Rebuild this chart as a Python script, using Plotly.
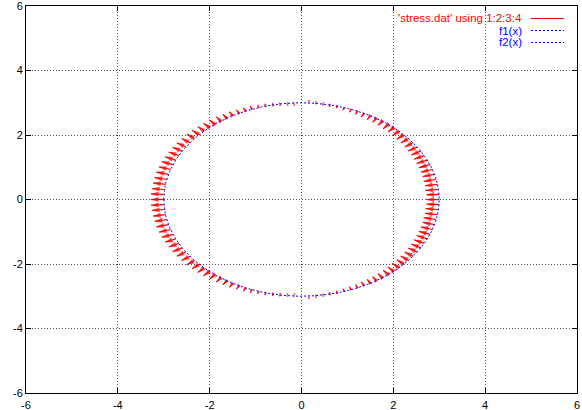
import math
import numpy as np
import plotly.graph_objects as go

# stress.dat: columns 1:2:3:4 -> x, y, dx, dy (one vector every 3 degrees around the ring)
x = [
    3.00, 3.00, 2.98, 2.96, 2.93, 2.90, 2.85, 2.80, 2.74, 2.67,
    2.60, 2.52, 2.43, 2.33, 2.23, 2.12, 2.01, 1.89, 1.76, 1.63,
    1.50, 1.36, 1.22, 1.08, 0.93, 0.78, 0.62, 0.47, 0.31, 0.16,
    0.00, -0.16, -0.31, -0.47, -0.62, -0.78, -0.93, -1.08, -1.22, -1.36,
    -1.50, -1.63, -1.76, -1.89, -2.01, -2.12, -2.23, -2.33, -2.43, -2.52,
    -2.60, -2.67, -2.74, -2.80, -2.85, -2.90, -2.93, -2.96, -2.98, -3.00,
    -3.00, -3.00, -2.98, -2.96, -2.93, -2.90, -2.85, -2.80, -2.74, -2.67,
    -2.60, -2.52, -2.43, -2.33, -2.23, -2.12, -2.01, -1.89, -1.76, -1.63,
    -1.50, -1.36, -1.22, -1.08, -0.93, -0.78, -0.62, -0.47, -0.31, -0.16,
    0.00, 0.16, 0.31, 0.47, 0.62, 0.78, 0.93, 1.08, 1.22, 1.36,
    1.50, 1.63, 1.76, 1.89, 2.01, 2.12, 2.23, 2.33, 2.43, 2.52,
    2.60, 2.67, 2.74, 2.80, 2.85, 2.90, 2.93, 2.96, 2.98, 3.00,
]
y = [
    0.00, 0.16, 0.31, 0.47, 0.62, 0.78, 0.93, 1.08, 1.22, 1.36,
    1.50, 1.63, 1.76, 1.89, 2.01, 2.12, 2.23, 2.33, 2.43, 2.52,
    2.60, 2.67, 2.74, 2.80, 2.85, 2.90, 2.93, 2.96, 2.98, 3.00,
    3.00, 3.00, 2.98, 2.96, 2.93, 2.90, 2.85, 2.80, 2.74, 2.67,
    2.60, 2.52, 2.43, 2.33, 2.23, 2.12, 2.01, 1.89, 1.76, 1.63,
    1.50, 1.36, 1.22, 1.08, 0.93, 0.78, 0.62, 0.47, 0.31, 0.16,
    0.00, -0.16, -0.31, -0.47, -0.62, -0.78, -0.93, -1.08, -1.22, -1.36,
    -1.50, -1.63, -1.76, -1.89, -2.01, -2.12, -2.23, -2.33, -2.43, -2.52,
    -2.60, -2.67, -2.74, -2.80, -2.85, -2.90, -2.93, -2.96, -2.98, -3.00,
    -3.00, -3.00, -2.98, -2.96, -2.93, -2.90, -2.85, -2.80, -2.74, -2.67,
    -2.60, -2.52, -2.43, -2.33, -2.23, -2.12, -2.01, -1.89, -1.76, -1.63,
    -1.50, -1.36, -1.22, -1.08, -0.93, -0.78, -0.62, -0.47, -0.31, -0.16,
]
dx = [
    -0.280, -0.279, -0.277, -0.273, -0.268, -0.261, -0.253, -0.244, -0.234, -0.222,
    -0.210, -0.197, -0.183, -0.169, -0.155, -0.140, -0.125, -0.111, -0.097, -0.083,
    -0.070, -0.058, -0.046, -0.036, -0.027, -0.019, -0.012, -0.007, -0.003, -0.001,
    0.000, -0.001, -0.003, -0.007, -0.012, -0.019, -0.027, -0.036, -0.046, -0.058,
    -0.070, -0.083, -0.097, -0.111, -0.125, -0.140, -0.155, -0.169, -0.183, -0.197,
    -0.210, -0.222, -0.234, -0.244, -0.253, -0.261, -0.268, -0.273, -0.277, -0.279,
    -0.280, -0.279, -0.277, -0.273, -0.268, -0.261, -0.253, -0.244, -0.234, -0.222,
    -0.210, -0.197, -0.183, -0.169, -0.155, -0.140, -0.125, -0.111, -0.097, -0.083,
    -0.070, -0.058, -0.046, -0.036, -0.027, -0.019, -0.012, -0.007, -0.003, -0.001,
    0.000, -0.001, -0.003, -0.007, -0.012, -0.019, -0.027, -0.036, -0.046, -0.058,
    -0.070, -0.083, -0.097, -0.111, -0.125, -0.140, -0.155, -0.169, -0.183, -0.197,
    -0.210, -0.222, -0.234, -0.244, -0.253, -0.261, -0.268, -0.273, -0.277, -0.279,
]
dy = [
    0.000, -0.015, -0.029, -0.043, -0.057, -0.070, -0.082, -0.094, -0.104, -0.113,
    -0.121, -0.128, -0.133, -0.137, -0.139, -0.140, -0.139, -0.137, -0.133, -0.128,
    -0.121, -0.113, -0.104, -0.094, -0.082, -0.070, -0.057, -0.043, -0.029, -0.015,
    0.000, 0.015, 0.029, 0.043, 0.057, 0.070, 0.082, 0.094, 0.104, 0.113,
    0.121, 0.128, 0.133, 0.137, 0.139, 0.140, 0.139, 0.137, 0.133, 0.128,
    0.121, 0.113, 0.104, 0.094, 0.082, 0.070, 0.057, 0.043, 0.029, 0.015,
    0.000, -0.015, -0.029, -0.043, -0.057, -0.070, -0.082, -0.094, -0.104, -0.113,
    -0.121, -0.128, -0.133, -0.137, -0.139, -0.140, -0.139, -0.137, -0.133, -0.128,
    -0.121, -0.113, -0.104, -0.094, -0.082, -0.070, -0.057, -0.043, -0.029, -0.015,
    0.000, 0.015, 0.029, 0.043, 0.057, 0.070, 0.082, 0.094, 0.104, 0.113,
    0.121, 0.128, 0.133, 0.137, 0.139, 0.140, 0.139, 0.137, 0.133, 0.128,
    0.121, 0.113, 0.104, 0.094, 0.082, 0.070, 0.057, 0.043, 0.029, 0.015,
]

tick_vals = [-6, -4, -2, 0, 2, 4, 6]
key_labels = ["'stress.dat' using 1:2:3:4", "f1(x)", "f2(x)"]

RED = "#ff0000"
BLUE = "#0000ff"
FONT = "Liberation Sans, Arial, Helvetica, sans-serif"

W, H = 582, 410
L, R, T, B = 26, 5, 6, 17
pw, ph = W - L - R, H - T - B
XR = [-6, 6]
YR = [-6, 6]
sx = pw / (XR[1] - XR[0])   # pixels per x unit
sy = ph / (YR[1] - YR[0])   # pixels per y unit
HEAD = 8                     # full arrow-head marker size in px
HEAD_MIN = 3.5               # short vectors still get a small visible head


def f1(v):
    return np.sqrt(9.0 - v ** 2)


def f2(v):
    return -np.sqrt(9.0 - v ** 2)


# vectors: tail at (x, y), head at (x+dx, y+dy); the head is an arrow marker
# turned to the on-screen direction of the vector (degrees clockwise from up)
vx, vy, vsize, vang = [], [], [], []
for x0, y0, u, w in zip(x, y, dx, dy):
    px_len = math.hypot(u * sx, w * sy)
    if px_len > 0:
        ang = math.degrees(math.atan2(u * sx, w * sy))
        size = max(HEAD_MIN, min(HEAD, px_len * 1.2))
    else:
        ang, size = 0.0, 0
    vx += [x0, x0 + u, None]
    vy += [y0, y0 + w, None]
    vsize += [0, size, 0]
    vang += [0, ang, 0]

xs = np.linspace(-3.0, 3.0, 401)

fig = go.Figure()
fig.add_trace(go.Scatter(
    x=vx, y=vy, mode="lines+markers",
    line=dict(color=RED, width=1.2),
    marker=dict(symbol="arrow", angleref="up", angle=vang, size=vsize, color=RED,
                line=dict(width=0)),
    showlegend=False, hoverinfo="skip",
))
fig.add_trace(go.Scatter(
    x=xs, y=f1(xs), mode="lines",
    line=dict(color=BLUE, width=1, dash="2px,2px"),
    showlegend=False,
))
fig.add_trace(go.Scatter(
    x=xs, y=f2(xs), mode="lines",
    line=dict(color=BLUE, width=1, dash="2px,2px"),
    showlegend=False,
))

axis_common = dict(
    tickvals=tick_vals, ticktext=[str(t) for t in tick_vals],
    showgrid=True, gridcolor="#555555", griddash="1px,2px", gridwidth=1,
    zeroline=False, showline=True, linecolor="black", linewidth=1,
    mirror="ticks", ticks="inside", ticklen=5, tickcolor="black", tickwidth=1,
    tickfont=dict(family=FONT, size=11, color="black"),
    ticklabeloverflow="allow", automargin=False,
)


def px_to_paper(px, py):
    return (px - L) / pw, (H - B - py) / ph


# key in the upper right corner, drawn over a cleared box
kx0, ky0 = px_to_paper(392, 48)
shapes = [dict(type="rect", xref="paper", yref="paper", x0=kx0, x1=1, y0=ky0, y1=1,
               fillcolor="white", line=dict(width=0), layer="between")]
annotations = []
key_rows = [(18.5, RED, "solid"), (30.5, BLUE, "2px,2px"), (42.5, BLUE, "2px,2px")]
for label, (py, col, dash) in zip(key_labels, key_rows):
    tx, ty = px_to_paper(524, py)
    annotations.append(dict(text=label, xref="paper", yref="paper", x=tx, y=ty,
                            xanchor="right", yanchor="middle", showarrow=False,
                            font=dict(family=FONT, size=11.5, color=col)))
    lx0, ly = px_to_paper(531, py)
    lx1, _ = px_to_paper(564, py)
    shapes.append(dict(type="line", xref="paper", yref="paper", x0=lx0, x1=lx1,
                       y0=ly, y1=ly, line=dict(color=col, width=1, dash=dash)))

fig.update_layout(
    template="none",
    width=W, height=H,
    margin=dict(l=L, r=R, t=T, b=B, autoexpand=False),
    paper_bgcolor="white", plot_bgcolor="white",
    xaxis=dict(axis_common, range=XR, ticklabelstandoff=2),
    yaxis=dict(axis_common, range=YR),
    shapes=shapes, annotations=annotations,
    showlegend=False,
)

fig.write_html("out.html")
